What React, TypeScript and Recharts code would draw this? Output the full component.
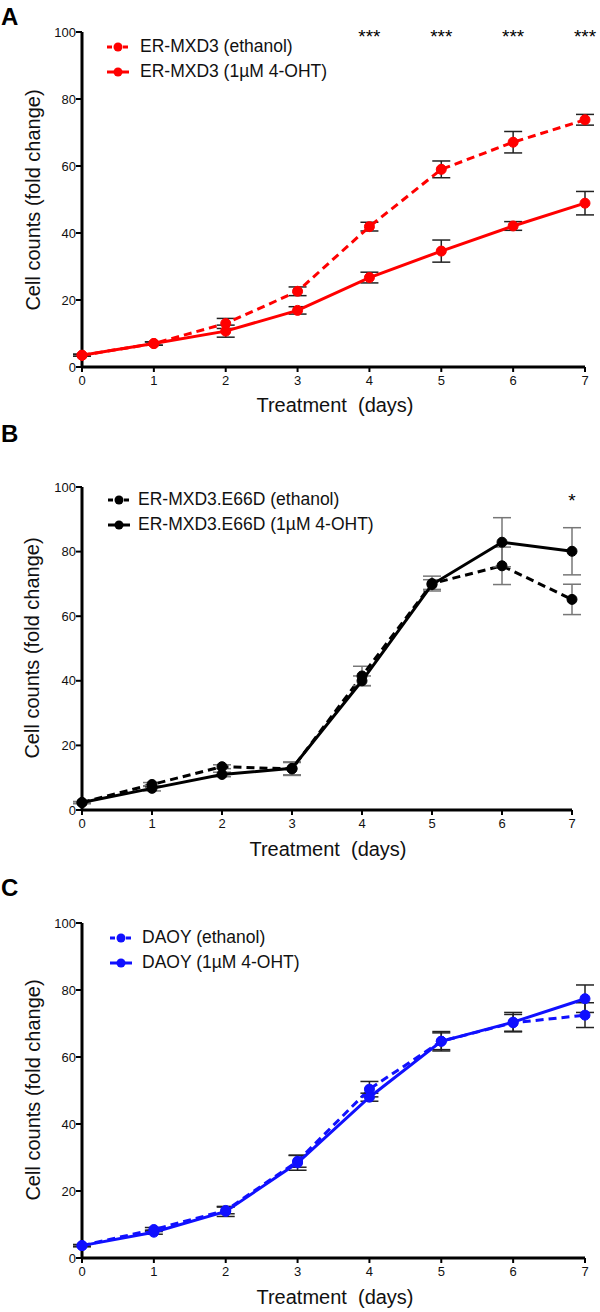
import React from 'react'
import {
  LineChart, Line, XAxis, YAxis, ErrorBar, Legend, ReferenceDot,
} from 'recharts'

const days = [0, 1, 2, 3, 4, 5, 6, 7]
const yTicks = [0, 20, 40, 60, 80, 100]

// A: ER-MXD3
const aEthanol = [3.5, 7.0, 13.0, 22.6, 41.9, 59.0, 67.1, 73.8]
const aEthanolErr = [0.3, 0.5, 1.5, 1.3, 1.3, 2.5, 3.2, 1.6]
const aOht = [3.5, 7.0, 10.7, 16.9, 26.7, 34.6, 42.1, 48.9]
const aOhtErr = [0.3, 0.5, 1.8, 1.1, 1.6, 3.3, 1.3, 3.5]
const aStars = ['', '', '', '', '***', '***', '***', '***']

// B: ER-MXD3.E66D
const bEthanol = [2.3, 7.9, 13.4, 12.7, 41.5, 70.1, 75.6, 65.2]
const bEthanolErr = [0.3, 0.6, 0.6, 2.0, 3.0, 2.3, 5.8, 4.7]
const bOht = [2.3, 6.7, 11.0, 12.9, 40.0, 69.8, 82.9, 80.1]
const bOhtErr = [0.3, 0.8, 0.7, 2.0, 1.5, 1.5, 7.6, 7.3]
const bStars = ['', '', '', '', '', '', '', '*']

// C: DAOY
const cEthanol = [3.7, 8.5, 14.2, 28.9, 50.4, 64.7, 70.2, 72.5]
const cEthanolErr = [0.3, 0.6, 1.0, 1.8, 2.3, 2.5, 2.5, 3.7]
const cOht = [3.7, 7.7, 13.9, 28.4, 48.0, 64.7, 70.4, 77.4]
const cOhtErr = [0.3, 0.6, 1.5, 2.2, 1.2, 2.9, 2.9, 4.1]
const cStars = ['', '', '', '', '', '', '', '']

const FONT = '"Liberation Sans", Arial, sans-serif'

interface PanelProps {
  letter: string
  top: number
  height: number
  margin: { top: number; right: number; left: number; bottom: number }
  color: string
  errColor: string
  names: [string, string]
  eth: number[]
  ethErr: number[]
  oht: number[]
  ohtErr: number[]
  stars: string[]
  starDy: number
  letterY: number
  legendPos: { top: number; left: number; gap: number }
  xTitle: { x: number; y: number }
  yTitle: { x: number; y: number }
}

function LegendIcon({ color, dashed }: { color: string; dashed: boolean }) {
  return (
    <svg width={22} height={12} style={{ display: 'block' }}>
      <line x1={0} y1={6} x2={22} y2={6} stroke={color} strokeWidth={3}
        strokeDasharray={dashed ? '5 3' : undefined} />
      <circle cx={11} cy={6} r={4.5} fill={color} />
    </svg>
  )
}

function Panel(p: PanelProps) {
  const data = days.map((d, i) => ({
    day: d,
    eth: p.eth[i],
    ethErr: p.ethErr[i],
    oht: p.oht[i],
    ohtErr: p.ohtErr[i],
  }))

  const legendContent = () => (
    <div style={{ fontFamily: FONT, fontSize: 17.5, color: '#111' }}>
      {[0, 1].map(i => (
        <div key={i} style={{ display: 'flex', alignItems: 'center', height: 25, whiteSpace: 'nowrap' }}>
          <LegendIcon color={p.color} dashed={i === 0} />
          <span style={{ marginLeft: p.legendPos.gap }}>{p.names[i]}</span>
        </div>
      ))}
    </div>
  )

  const starLabel = (text: string) => (props: any) => {
    const vb = props.viewBox || {}
    const cx = (vb.x ?? 0) + (vb.width ?? 0) / 2
    const cy = (vb.y ?? 0) + (vb.height ?? 0) / 2
    return (
      <text x={cx} y={cy + p.starDy} textAnchor="middle" fontFamily={FONT} fontSize={19} fill="#000">
        {text}
      </text>
    )
  }

  return (
    <div style={{ position: 'absolute', left: 0, top: p.top, width: 600, height: p.height }}>
      <LineChart width={600} height={p.height} data={data} margin={p.margin}>
        <XAxis
          type="number" dataKey="day" domain={[0, 7]} ticks={days} height={30}
          axisLine={{ stroke: '#000', strokeWidth: 3 }}
          tickLine={{ stroke: '#000', strokeWidth: 2 }}
          tickSize={5} tickMargin={4}
          tick={{ fill: '#111', fontSize: 13, fontFamily: FONT }}
        />
        <YAxis
          type="number" domain={[0, 100]} ticks={yTicks} width={60}
          axisLine={{ stroke: '#000', strokeWidth: 3 }}
          tickLine={{ stroke: '#000', strokeWidth: 2 }}
          tickSize={6} tickMargin={0}
          tick={{ fill: '#111', fontSize: 13, fontFamily: FONT }}
        />
        <Legend
          layout="vertical" align="center" verticalAlign="middle"
          wrapperStyle={{ top: p.legendPos.top, left: p.legendPos.left, width: 'auto' }}
          content={legendContent}
        />
        <Line
          type="linear" dataKey="eth" stroke={p.color} strokeWidth={3} strokeDasharray="8 5"
          dot={{ r: 5, fill: p.color, stroke: p.color, strokeWidth: 1, strokeDasharray: 'none' }}
          activeDot={false} isAnimationActive={false}
        >
          <ErrorBar dataKey="ethErr" direction="y" width={9} stroke={p.errColor} strokeWidth={1.5} />
        </Line>
        <Line
          type="linear" dataKey="oht" stroke={p.color} strokeWidth={3}
          dot={{ r: 5, fill: p.color, stroke: p.color, strokeWidth: 1 }}
          activeDot={false} isAnimationActive={false}
        >
          <ErrorBar dataKey="ohtErr" direction="y" width={9} stroke={p.errColor} strokeWidth={1.5} />
        </Line>
        {days.filter((_, i) => p.stars[i]).map(d => (
          <ReferenceDot key={d} x={d} y={100} r={0} stroke="none" fill="none"
            label={starLabel(p.stars[d])} />
        ))}
      </LineChart>
      <svg width={600} height={p.height}
        style={{ position: 'absolute', left: 0, top: 0, pointerEvents: 'none' }}>
        <text x={1} y={p.letterY} fontFamily={FONT} fontWeight="bold" fontSize={24} fill="#000">
          {p.letter}
        </text>
        <text x={p.xTitle.x} y={p.xTitle.y} textAnchor="middle" fontFamily={FONT} fontSize={20}
          fill="#111" style={{ whiteSpace: 'pre' }}>
          {'Treatment  (days)'}
        </text>
        <text transform={`translate(${p.yTitle.x},${p.yTitle.y}) rotate(-90)`} textAnchor="middle"
          fontFamily={FONT} fontSize={20} fill="#111">
          Cell counts (fold change)
        </text>
      </svg>
    </div>
  )
}

export default function App() {
  return (
    <div style={{ position: 'absolute', left: 0, top: 0, width: 600, height: 1312, background: '#fff' }}>
      <Panel
        letter="A" top={0} height={420}
        margin={{ top: 32, right: 15, left: 22, bottom: 23 }}
        color="#ff0000" errColor="#222"
        names={['ER-MXD3 (ethanol)', 'ER-MXD3 (1µM 4-OHT)']}
        eth={aEthanol} ethErr={aEthanolErr} oht={aOht} ohtErr={aOhtErr}
        stars={aStars} starDy={11}
        letterY={25}
        legendPos={{ top: 34, left: 107, gap: 11 }}
        xTitle={{ x: 335, y: 412 }}
        yTitle={{ x: 40, y: 200 }}
      />
      <Panel
        letter="B" top={420} height={440}
        margin={{ top: 67, right: 28, left: 22, bottom: 20 }}
        color="#000000" errColor="#777"
        names={['ER-MXD3.E66D (ethanol)', 'ER-MXD3.E66D (1µM 4-OHT)']}
        eth={bEthanol} ethErr={bEthanolErr} oht={bOht} ohtErr={bOhtErr}
        stars={bStars} starDy={20}
        letterY={22}
        legendPos={{ top: 67, left: 108, gap: 8 }}
        xTitle={{ x: 328, y: 436 }}
        yTitle={{ x: 38.5, y: 228 }}
      />
      <Panel
        letter="C" top={860} height={452}
        margin={{ top: 63, right: 15, left: 22, bottom: 24 }}
        color="#1010ff" errColor="#222"
        names={['DAOY (ethanol)', 'DAOY (1µM 4-OHT)']}
        eth={cEthanol} ethErr={cEthanolErr} oht={cOht} ohtErr={cOhtErr}
        stars={cStars} starDy={11}
        letterY={36}
        legendPos={{ top: 65, left: 110, gap: 10 }}
        xTitle={{ x: 335, y: 444 }}
        yTitle={{ x: 39.5, y: 230 }}
      />
    </div>
  )
}
